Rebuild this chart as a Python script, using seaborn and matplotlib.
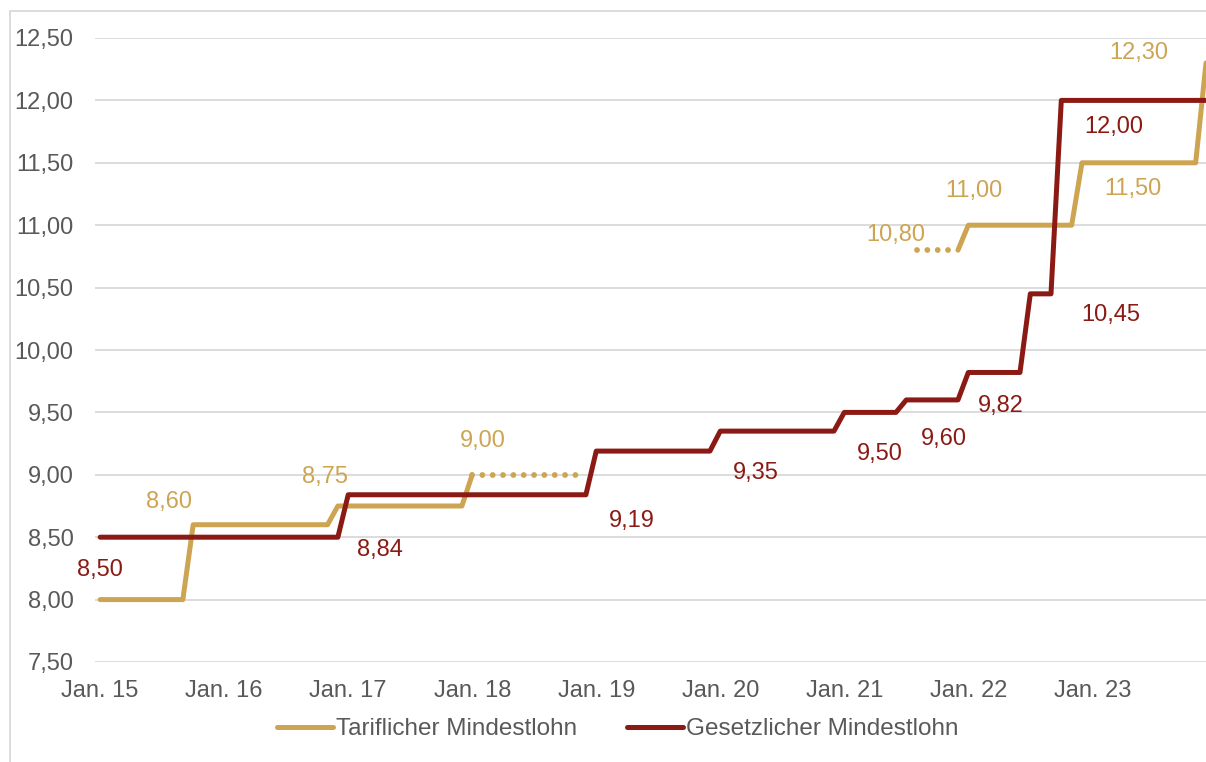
import matplotlib
matplotlib.use("Agg")
import matplotlib.pyplot as plt
from matplotlib.lines import Line2D
from matplotlib.patches import Rectangle
import numpy as np
import pandas as pd
import seaborn as sns

# ---------------------------------------------------------------- data
months = pd.period_range("2015-01", "2023-12", freq="M")
tick_months = ["2015-01", "2016-01", "2017-01", "2018-01", "2019-01",
               "2020-01", "2021-01", "2022-01", "2023-01"]
tick_labels = ["Jan. 15", "Jan. 16", "Jan. 17", "Jan. 18", "Jan. 19",
               "Jan. 20", "Jan. 21", "Jan. 22", "Jan. 23"]

# Gesetzlicher Mindestlohn: month of change and hourly rate in EUR
gesetz_start = ["2015-01", "2017-01", "2019-01", "2020-01", "2021-01",
                "2021-07", "2022-01", "2022-07", "2022-10"]
gesetz_rate = [8.50, 8.84, 9.19, 9.35, 9.50, 9.60, 9.82, 10.45, 12.00]

# Tariflicher Mindestlohn: month of change and hourly rate in EUR
tarif_start = ["2015-01", "2015-10", "2016-12", "2018-01", "2021-08",
               "2022-01", "2022-12", "2023-12"]
tarif_rate = [8.00, 8.60, 8.75, 9.00, 10.80, 11.00, 11.50, 12.30]
# stretches shown as firm rates and as provisional (dotted) rates
tarif_solid = [("2015-01", "2018-01"), ("2021-12", "2023-12")]
tarif_dotted = [("2018-01", "2018-11"), ("2021-08", "2021-12")]

# ---------------------------------------------------------------- style
GOLD = "#CDA552"
RED = "#8B1A14"
GREY_TEXT = "#595959"
GRID = "#D9D9D9"
FS = 17
FS_LEG = 17.5
LW = 3.6
LW_DOT = 4.2

sns.set_theme(style="white")
plt.rcParams["font.family"] = ["Liberation Sans", "DejaVu Sans"]


def monthly(starts, rates):
    s = pd.Series(rates, index=pd.PeriodIndex(starts, freq="M"))
    s = s.reindex(months).ffill()
    return pd.DataFrame({"month": months, "pos": np.arange(len(months)),
                         "value": s.values})


def pieces(df, spans):
    parts = []
    for i, (a, b) in enumerate(spans):
        m = (df["month"] >= pd.Period(a, "M")) & (df["month"] <= pd.Period(b, "M"))
        part = df.loc[m].copy()
        part["segment"] = i
        parts.append(part)
    return pd.concat(parts, ignore_index=True)


gesetz = monthly(gesetz_start, gesetz_rate)
gesetz["segment"] = 0
tarif = monthly(tarif_start, tarif_rate)
tarif_firm = pieces(tarif, tarif_solid)
tarif_prov = pieces(tarif, tarif_dotted)

fig = plt.figure(figsize=(12.06, 7.62), dpi=100)
W, H = 1206, 762
ax = fig.add_axes([95 / W, 1 - 662 / H, (W - 95) / W, (662 - 38) / H])

# one round dot per month on the provisional stretches
month_px = (W - 95) / (len(months) - 0.5)
dot_gap = month_px / (LW_DOT * 100 / 72)

line_kw = dict(estimator=None, units="segment", legend=False,
               solid_capstyle="round", solid_joinstyle="round")
sns.lineplot(data=tarif_firm, x="pos", y="value", color=GOLD, lw=LW,
             zorder=3, ax=ax, **line_kw)
sns.lineplot(data=tarif_prov, x="pos", y="value", color=GOLD, lw=LW_DOT,
             zorder=3, ax=ax, estimator=None, units="segment", legend=False,
             linestyle=(0, (0.001, dot_gap)), dash_capstyle="round")
sns.lineplot(data=gesetz, x="pos", y="value", color=RED, lw=LW,
             zorder=4, ax=ax, **line_kw)

# axes
pos_of = {str(m): i for i, m in enumerate(months)}
ax.set_xlim(-0.5, len(months) - 1)
ax.set_ylim(7.5, 12.5)
yt = np.arange(7.5, 12.51, 0.5)
ax.set_yticks(yt)
ax.set_yticklabels([f"{v:.2f}".replace(".", ",") for v in yt])
ax.set_xticks([pos_of[m] for m in tick_months])
ax.set_xticklabels(tick_labels)
ax.set_xlabel("")
ax.set_ylabel("")
ax.tick_params(axis="both", length=0, labelsize=FS, labelcolor=GREY_TEXT)
ax.tick_params(axis="y", pad=15.5)
ax.tick_params(axis="x", pad=13)
ax.grid(axis="y", color=GRID, lw=1.3, zorder=0)
ax.grid(axis="x", visible=False)
for sp in ax.spines.values():
    sp.set_visible(False)
ax.set_facecolor("none")


def fmt(v):
    return f"{v:.2f}".replace(".", ",")


# value labels: (index into rate list, pixel offset from step start)
tarif_label_offsets = {1: (-24, 23), 2: (-13, 29), 3: (11, 34), 4: (-21, 15),
                       5: (6, 34), 6: (51, -26), 7: (-67, 10)}
gesetz_label_offsets = {0: (0, -33), 1: (32, -55), 2: (36, -70), 3: (36, -42),
                        4: (36, -42), 5: (38, -39), 6: (33, -34), 7: (80, -21),
                        8: (52, -27)}

for i, (dx, dy) in tarif_label_offsets.items():
    ax.annotate(fmt(tarif_rate[i]), xy=(pos_of[tarif_start[i]], tarif_rate[i]),
                xytext=(dx, dy), textcoords="offset pixels", ha="center",
                va="center", fontsize=FS, color=GOLD, zorder=6,
                annotation_clip=False)
for i, (dx, dy) in gesetz_label_offsets.items():
    ax.annotate(fmt(gesetz_rate[i]), xy=(pos_of[gesetz_start[i]], gesetz_rate[i]),
                xytext=(dx, dy), textcoords="offset pixels", ha="center",
                va="center", fontsize=FS, color=RED, zorder=6,
                annotation_clip=False)

# legend
handles = [Line2D([], [], color=GOLD, lw=LW, solid_capstyle="round"),
           Line2D([], [], color=RED, lw=LW, solid_capstyle="round")]
leg = fig.legend(handles, ["Tariflicher Mindestlohn", "Gesetzlicher Mindestlohn"],
                 loc="center", bbox_to_anchor=(618 / W, 1 - 729 / H), ncol=2,
                 frameon=False, fontsize=FS_LEG, handlelength=2.3,
                 handletextpad=0.12, columnspacing=2.05, labelcolor=GREY_TEXT)

# chart frame
fig.patches.append(Rectangle((10 / W, -0.1), 2.0, (1 - 11 / H) + 0.1,
                             transform=fig.transFigure, fill=False,
                             edgecolor=GRID, lw=1.3))

fig.savefig("out.png", dpi=100, facecolor="white")
